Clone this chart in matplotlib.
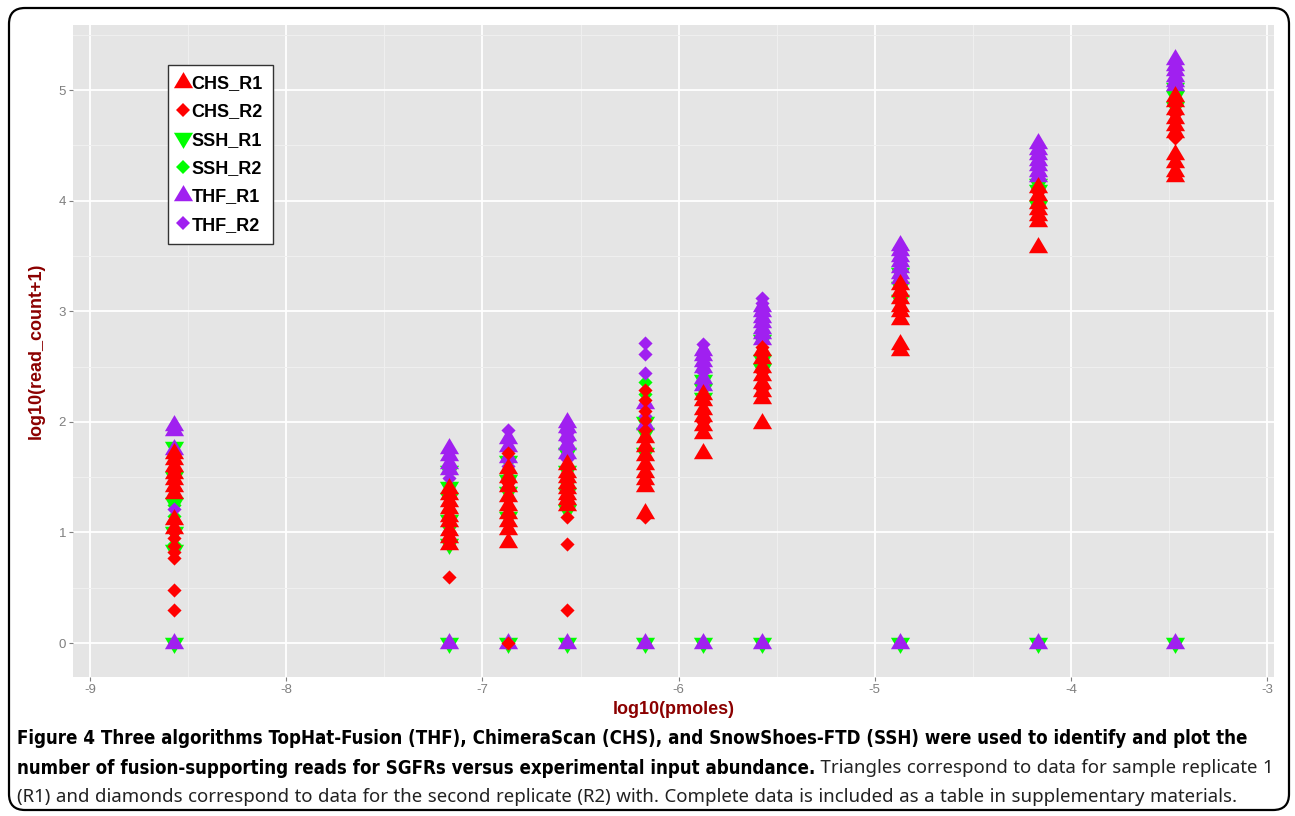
import matplotlib
matplotlib.use('Agg')
import matplotlib.pyplot as plt
from matplotlib import font_manager
from matplotlib.font_manager import FontProperties
from matplotlib.patches import FancyBboxPatch
from matplotlib.lines import Line2D
from matplotlib.path import Path

# ---------------- data ----------------
xpos = [-8.57, -7.17, -6.87, -6.57, -6.17, -5.875, -5.575, -4.87, -4.17, -3.47]

chs_r1 = [
    [1.72, 1.66, 1.60, 1.54, 1.48, 1.42, 1.36, 1.12, 1.04],
    [1.40, 1.35, 1.28, 1.22, 1.15, 1.10, 1.02, 0.96, 0.90],
    [1.58, 1.50, 1.42, 1.33, 1.25, 1.18, 1.10, 1.03, 0.91],
    [1.62, 1.55, 1.50, 1.45, 1.40, 1.35, 1.30, 1.25],
    [1.86, 1.78, 1.70, 1.62, 1.55, 1.48, 1.42, 1.18],
    [2.25, 2.20, 2.12, 2.05, 1.97, 1.90, 1.72],
    [2.65, 2.58, 2.50, 2.42, 2.35, 2.28, 2.22, 1.99],
    [3.25, 3.18, 3.12, 3.05, 3.00, 2.93, 2.70, 2.65],
    [4.12, 4.05, 3.98, 3.92, 3.87, 3.82, 3.58],
    [4.95, 4.90, 4.83, 4.75, 4.68, 4.62, 4.42, 4.35, 4.27, 4.22],
]
chs_r2 = [
    [1.55, 1.40, 1.10, 1.00, 0.95, 0.88, 0.82, 0.77, 0.48, 0.30],
    [1.38, 1.25, 1.12, 1.00, 0.60],
    [1.72, 1.45, 1.30, 1.15, 0.00],
    [1.50, 1.40, 1.14, 0.90, 0.30],
    [2.29, 2.20, 2.10, 2.02, 1.93, 1.14],
    [2.18, 2.10, 2.00],
    [2.68, 2.60, 2.45, 2.30],
    [3.15, 3.08, 2.98],
    [4.08, 3.95, 3.85],
    [4.88, 4.78, 4.57],
]
ssh_r1 = [
    [1.77, 1.50, 1.27, 1.00, 0.84, 0.00],
    [1.56, 1.41, 1.31, 1.11, 0.90, 0.00],
    [1.65, 1.47, 1.37, 1.14, 0.00],
    [1.72, 1.56, 1.36, 1.20, 0.00],
    [2.00, 1.90, 1.72, 0.00],
    [2.38, 2.30, 2.22, 0.00],
    [2.74, 2.56, 2.48, 0.00],
    [3.35, 3.22, 3.10, 0.00],
    [4.15, 4.10, 3.95, 0.00],
    [5.02, 4.95, 4.85, 0.00],
]
ssh_r2 = [
    [1.25, 1.15, 0.90],
    [1.35, 1.20, 1.05],
    [1.55, 1.30],
    [1.60, 1.45],
    [2.36, 2.25],
    [2.32],
    [2.60],
    [3.30],
    [4.12],
    [4.98],
]
thf_r1 = [
    [1.97, 1.93, 1.75, 0.00],
    [1.76, 1.70, 1.63, 1.57, 0.00],
    [1.85, 1.78, 1.68, 0.00],
    [2.00, 1.95, 1.88, 1.80, 1.72, 0.00],
    [2.17, 1.98, 0.00],
    [2.65, 2.60, 2.55, 2.50, 2.40, 2.33, 0.00],
    [3.05, 3.00, 2.95, 2.90, 2.85, 2.80, 2.75, 0.00],
    [3.60, 3.55, 3.50, 3.45, 3.40, 3.35, 3.30, 0.00],
    [4.52, 4.47, 4.42, 4.37, 4.32, 4.27, 4.22, 0.00],
    [5.28, 5.23, 5.18, 5.13, 5.08, 5.05, 0.00],
]
thf_r2 = [
    [1.21],
    [1.49],
    [1.93, 1.60, 1.41],
    [1.98, 1.90, 1.83, 1.75, 1.66],
    [2.71, 2.61, 2.44, 2.05],
    [2.70, 2.62, 2.45, 2.35],
    [3.12, 3.07, 2.98, 2.88, 2.78],
    [3.58, 3.48, 3.38],
    [4.45, 4.35, 4.25],
    [5.20, 5.10],
]

x_ticks = [-9, -8, -7, -6, -5, -4, -3]
y_ticks = [0, 1, 2, 3, 4, 5]
x_title = "log10(pmoles)"
y_title = "log10(read_count+1)"
caption_bold1 = ("Figure 4 Three algorithms TopHat-Fusion (THF), ChimeraScan (CHS), "
                 "and SnowShoes-FTD (SSH) were used to identify and plot the")
caption_bold2 = "number of fusion-supporting reads for SGFRs versus experimental input abundance."
caption_reg2 = " Triangles correspond to data for sample replicate 1"
caption_reg3 = ("(R1) and diamonds correspond to data for the second replicate (R2) with. "
                "Complete data is included as a table in supplementary materials.")

# ---------------- styling ----------------
RED, GREEN, PURPLE = '#FF0000', '#00FF00', '#A020F0'
# centroid-centred triangles (like R's pch 17 / 25)
TRI_UP = Path([(0, 1), (-0.92, -0.55), (0.92, -0.55), (0, 1)],
              [Path.MOVETO, Path.LINETO, Path.LINETO, Path.CLOSEPOLY])
TRI_DN = Path([(0, -1), (-0.92, 0.55), (0.92, 0.55), (0, -1)],
              [Path.MOVETO, Path.LINETO, Path.LINETO, Path.CLOSEPOLY])
series = [
    ("SSH_R1", ssh_r1, GREEN, TRI_DN, True),
    ("SSH_R2", ssh_r2, GREEN, 'D', False),
    ("THF_R1", thf_r1, PURPLE, TRI_UP, True),
    ("THF_R2", thf_r2, PURPLE, 'D', False),
    ("CHS_R1", chs_r1, RED, TRI_UP, True),
    ("CHS_R2", chs_r2, RED, 'D', False),
]
legend_order = ["CHS_R1", "CHS_R2", "SSH_R1", "SSH_R2", "THF_R1", "THF_R2"]
TRI_MS, DIA_MS = 15.0, 7.2

plt.rcParams['axes.unicode_minus'] = False
names = {f.name for f in font_manager.fontManager.ttflist}
base_font = 'Liberation Sans' if 'Liberation Sans' in names else 'DejaVu Sans'
plt.rcParams['font.family'] = [base_font, 'DejaVu Sans']


def wnum(f):
    w = f.weight
    if isinstance(w, str):
        w = {'light': 300, 'normal': 400, 'regular': 400, 'book': 400, 'medium': 500,
             'semibold': 600, 'demibold': 600, 'bold': 700}.get(w, 400)
    return w


def is_condensed(f):
    s = str(f.stretch).lower()
    txt = (f.name + ' ' + f.fname).lower()
    return ('condensed' in s or 'narrow' in txt or 'condensed' in txt
            or (isinstance(f.stretch, (int, float)) and f.stretch < 500))


def bold_caption_font():
    cands = [f for f in font_manager.fontManager.ttflist
             if is_condensed(f) and f.style == 'normal'
             and 'extra' not in f.fname.lower() and 'ultra' not in f.fname.lower()
             and 'semi' not in f.fname.lower() and 650 <= wnum(f) <= 750]
    if cands:
        return FontProperties(fname=cands[0].fname)
    return FontProperties(family=base_font, weight='bold')


def regular_candidates():
    seen, out = set(), []
    for f in font_manager.fontManager.ttflist:
        if f.style != 'normal' or not (300 <= wnum(f) <= 400):
            continue
        if 'italic' in f.fname.lower() or 'mono' in f.fname.lower():
            continue
        if 'cjk' in f.name.lower() or f.fname in seen:
            continue
        seen.add(f.fname)
        out.append(f.fname)
    return out


cap_bold = bold_caption_font()

W, H = 1295, 816
fig = plt.figure(figsize=(W / 100, H / 100), dpi=100)
fig.patch.set_facecolor('white')

# outer rounded frame
frame = FancyBboxPatch((9, H - 810), 1280, 802,
                       boxstyle="round,pad=0,rounding_size=16",
                       transform=None, facecolor='none', edgecolor='black',
                       linewidth=1.6)
fig.patches.append(frame)

# panel
L, R, T, B = 73, 1274, 25, 677
ax = fig.add_axes([L / W, 1 - B / H, (R - L) / W, (B - T) / H])
ax.set_facecolor('#E5E5E5')
for s in ax.spines.values():
    s.set_visible(False)
ax.set_xlim(-9.087, -2.965)
ax.set_ylim(-0.307, 5.588)
ax.set_xticks(x_ticks)
ax.set_yticks(y_ticks)
ax.set_xticks([v + 0.5 for v in x_ticks[:-1]], minor=True)
ax.set_yticks([v + 0.5 for v in y_ticks], minor=True)
ax.grid(True, which='major', color='white', linewidth=1.3)
ax.grid(True, which='minor', color='#F0F0F0', linewidth=0.7)
ax.set_axisbelow(True)
ax.tick_params(which='major', length=3, width=0.8, color='#7F7F7F',
               labelcolor='#7F7F7F', labelsize=9.5, pad=2)
ax.tick_params(which='minor', length=0)

for name, data, col, mk, tri in series:
    xs = [x for x, grp in zip(xpos, data) for _ in grp]
    ys = [v for grp in data for v in grp]
    ms = TRI_MS if tri else DIA_MS
    ax.scatter(xs, ys, s=ms ** 2, marker=mk, color=col, linewidths=0, zorder=3)

ax.set_xlabel(x_title, fontsize=13, fontweight='bold', color='#8B0000', labelpad=4)
fig.text(36 / W, 1 - 351 / H, y_title, rotation=90, fontsize=13,
         fontweight='bold', color='#8B0000', ha='center', va='center')

# legend
lookup = {n: (c, m, t) for n, _, c, m, t in series}
handles = []
for n in legend_order:
    c, m, t = lookup[n]
    handles.append(Line2D([], [], linestyle='none', marker=m, color=c,
                          markersize=TRI_MS if t else DIA_MS,
                          markeredgewidth=0))
leg = ax.legend(handles, legend_order, loc='upper left',
                bbox_to_anchor=((168 - L) / (R - L), (B - 65) / (B - T)),
                borderaxespad=0, frameon=True, fancybox=False,
                edgecolor='#333333', facecolor='white', framealpha=1,
                prop={'family': base_font, 'weight': 'bold', 'size': 13},
                handlelength=0.6, handletextpad=0.15, labelspacing=0.63,
                borderpad=0.55)
leg.get_frame().set_linewidth(1.0)

# caption
fig.canvas.draw()
renderer = fig.canvas.get_renderer()
x0 = 17 / W
cap_bold.set_size(14)
t1 = fig.text(x0, 1 - 739 / H, caption_bold1, fontproperties=cap_bold,
              va='center', ha='left', color='black')
w = t1.get_window_extent(renderer).width
size = 14 * 1241 / w
cap_bold.set_size(size)
t1.set_fontproperties(cap_bold)

# choose the regular face whose width at this size best matches the reference line 3
target3 = 1220
best = None
probe = fig.text(0, 0, caption_reg3, fontsize=size)
for fn in regular_candidates():
    fp = FontProperties(fname=fn, size=size)
    probe.set_fontproperties(fp)
    try:
        wv = probe.get_window_extent(renderer).width
    except Exception:
        continue
    if best is None or abs(wv - target3) < abs(best[1] - target3):
        best = (fn, wv)
probe.remove()
if best is not None:
    cap_reg = FontProperties(fname=best[0], size=size * target3 / best[1])
else:
    cap_reg = FontProperties(family=base_font, size=size)

t2 = fig.text(x0, 1 - 768 / H, caption_bold2, fontproperties=cap_bold,
              va='center', ha='left', color='black')
fig.canvas.draw()
bb = t2.get_window_extent(renderer)
fig.text(bb.x1 / W, 1 - 768 / H, caption_reg2, fontproperties=cap_reg,
         va='center', ha='left', color='#222222')
fig.text(x0, 1 - 797 / H, caption_reg3, fontproperties=cap_reg,
         va='center', ha='left', color='#222222')

fig.savefig('out.png', dpi=100)
